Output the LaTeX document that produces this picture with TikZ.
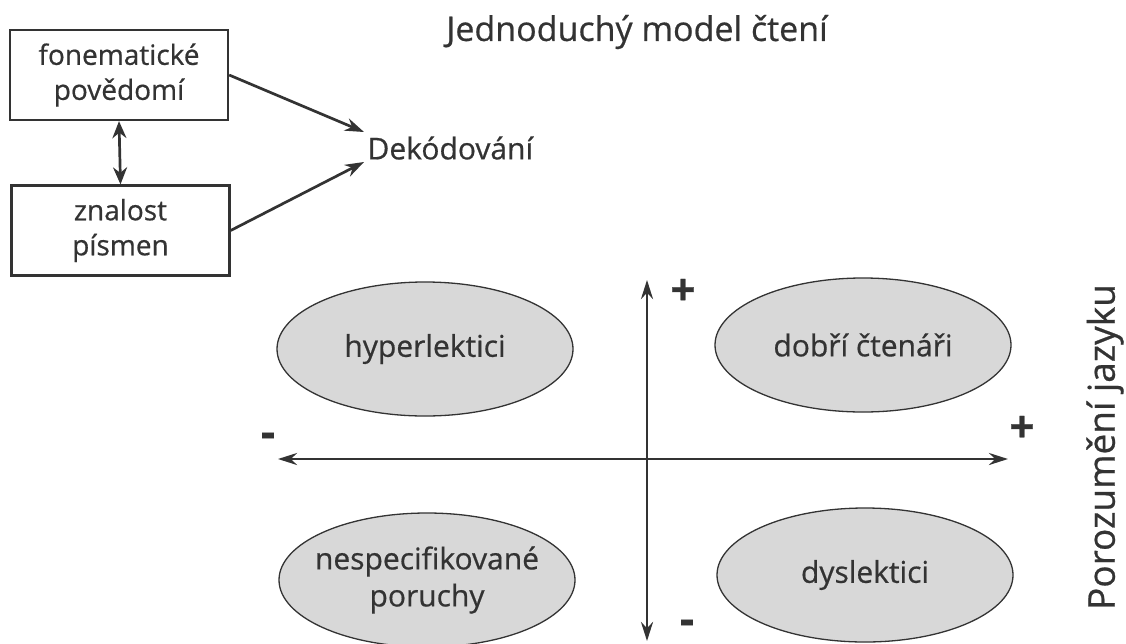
\documentclass[tikz,border=0pt]{standalone}
\usepackage{fontspec}
\setmainfont{Open Sans}[FakeBold=0.6]
\usetikzlibrary{shapes.geometric,arrows.meta}
\definecolor{ink}{HTML}{333333}
\definecolor{blobfill}{HTML}{D8D8D8}
\tikzset{
  box/.style={draw=ink, line width=2.3pt, rectangle, minimum width=218pt, minimum height=90pt, align=center, text=ink, font=\fontsize{28}{35}\selectfont},
  blob/.style={draw=ink, line width=1.3pt, fill=blobfill, ellipse, minimum width=296pt, minimum height=134pt, inner sep=0pt},
  lbl/.style={text=ink, align=center, font=\fontsize{30}{37}\selectfont},
  sign/.style={text=ink, font=\fontsize{44}{44}\selectfont\bfseries},
  link/.style={draw=ink, line width=2.7pt, -{Stealth[length=19pt,width=13pt]}},
  axis/.style={draw=ink, line width=2.7pt, {Stealth[length=19pt,width=12pt]}-{Stealth[length=19pt,width=12pt]}},
}
\begin{document}
\begin{tikzpicture}[x=1pt, y=-1pt]
\useasboundingbox (0,0) rectangle (1126,643);
% Title
\node[lbl, font=\fontsize{34}{40}\selectfont] (title) at (637,32) {Jednoduchý model čtení};

% Decoding part
\node[box] (fon) at (119,75) {fonematické\\povědomí};
\node[box] (zna) at (120.5,230.5) {znalost\\písmen};
\node[lbl, anchor=west] (dek) at (364,148) {Dekódování};
\draw[axis, {Stealth[length=17pt,width=14pt]}-{Stealth[length=17pt,width=14pt]}] (fon.south) -- (zna.north);
\draw[link] (fon.east) -- ([yshift=16pt]dek.west);
\draw[link] (zna.east) -- ([yshift=-14pt]dek.west);

% Quadrants
\node[blob] (hyper) at (425,349) {};
\node[lbl] at (hyper) {hyperlektici};
\node[blob] (good) at (863,345) {};
\node[lbl] at (good) {dobří čtenáři};
\node[blob] (unspec) at (427,580) {};
\node[lbl] at (unspec) {nespecifikované\\poruchy};
\node[blob] (dys) at (865,575) {};
\node[lbl] at (dys) {dyslektici};

% Axes
\coordinate (top) at (647,280);
\coordinate (bottom) at (647,641);
\coordinate (left) at (278,459);
\coordinate (right) at (1008,459);
\draw[axis] (bottom) -- (top);
\draw[axis] (left) -- (right);
\node[sign] (ptop) at (683,292) {+};
\node[sign] (mbottom) at (687,627) {-};
\node[sign] (mleft) at (268,440) {-};
\node[sign] (pright) at (1022,429) {+};

% Side label
\node[lbl, rotate=90, font=\fontsize{37}{40}\selectfont] (comp) at (1105,447) {Porozumění jazyku};
\end{tikzpicture}
\end{document}
